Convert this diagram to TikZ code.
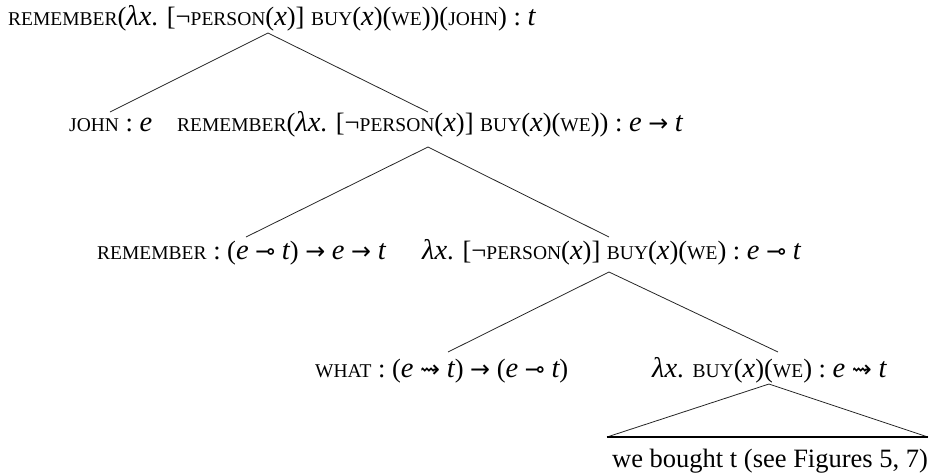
\documentclass[tikz,border=0pt]{standalone}
\usepackage{fontspec}
\setmainfont{Liberation Serif}[ItalicFont={Liberation Serif Italic}]
\newfontfamily\symfont[Scale=0.9]{DejaVu Sans}
\newcommand{\sct}[1]{{\fontsize{19.5}{20}\selectfont\MakeUppercase{#1}}}
\newcommand{\iv}[1]{{\fontsize{28.5}{30}\selectfont\itshape #1}}
\newcommand{\lolli}{{\symfont ⊸}}
\newcommand{\squig}{{\symfont ⇝}}
\newcommand{\fto}{{\symfont →}}
\begin{document}
\begin{tikzpicture}[
    x=1pt, y=-1pt,
    every node/.style={font=\fontsize{26.5}{30}\selectfont},
    term/.style={inner sep=0pt, anchor=base west},
    branch/.style={line width=0.8pt, draw=black!85},
    yield/.style={line width=2.2pt}
]
\useasboundingbox (0,0) rectangle (933,475);

% Root
\node[term] (root) at (8,25) {\sct{remember}(\iv{λx}. [¬\sct{person}(\iv{x})] \sct{buy}(\iv{x})(\sct{we}))(\sct{john}) : \iv{t}};
\coordinate (root-foot) at (268,33);

% First split
\node[term] (john) at (69,131) {\sct{john} : \iv{e}};
\node[term] (rem1) at (177,131) {\sct{remember}(\iv{λx}. [¬\sct{person}(\iv{x})] \sct{buy}(\iv{x})(\sct{we})) : \iv{e} \fto{} \iv{t}};
\coordinate (john-top) at (110,112);
\coordinate (rem1-top) at (428,112);
\coordinate (rem1-foot) at (428,147);

% Second split
\node[term] (rem2) at (97,259) {\sct{remember} : (\iv{e} \lolli{} \iv{t}) \fto{} \iv{e} \fto{} \iv{t}};
\node[term] (lam2) at (422,259) {\iv{λx}. [¬\sct{person}(\iv{x})] \sct{buy}(\iv{x})(\sct{we}) : \iv{e} \lolli{} \iv{t}};
\coordinate (rem2-top) at (246,237);
\coordinate (lam2-top) at (609,237);
\coordinate (lam2-foot) at (609,272);

% Third split
\node[term] (what) at (315,377) {\sct{what} : (\iv{e} \squig{} \iv{t}) \fto{} (\iv{e} \lolli{} \iv{t})};
\node[term] (lam3) at (652,377) {\iv{λx}. \sct{buy}(\iv{x})(\sct{we}) : \iv{e} \squig{} \iv{t}};
\coordinate (what-top) at (448,352);
\coordinate (lam3-top) at (778,352);
\coordinate (lam3-foot) at (769,384);

% Unanalysed yield
\coordinate (yield-l) at (607,437);
\coordinate (yield-r) at (928,437);
\node[term] (bought) at (612,467) {we bought t (see Figures 5, 7)};

% Branches
\draw[branch] (john-top) -- (root-foot) -- (rem1-top);
\draw[branch] (rem2-top) -- (rem1-foot) -- (lam2-top);
\draw[branch] (what-top) -- (lam2-foot) -- (lam3-top);
\draw[branch] (yield-l) -- (lam3-foot) -- (yield-r);
\draw[yield] (yield-l) -- (yield-r);
\end{tikzpicture}
\end{document}
